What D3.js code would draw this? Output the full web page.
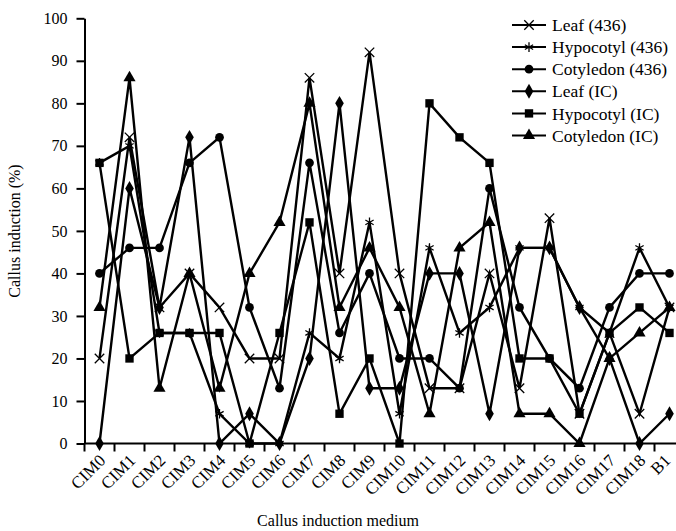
<!DOCTYPE html>
<html>
<head>
<meta charset="utf-8">
<script src="https://cdn.jsdelivr.net/npm/d3@7"></script>
<style>
  body { margin: 0; background: #fff; }
  text { font-family: "Liberation Serif", "Times New Roman", serif; fill: #000; }
</style>
</head>
<body>
<div id="chart"></div>
<script>
// categories (culture media)
const media = ["CIM0","CIM1","CIM2","CIM3","CIM4","CIM5","CIM6","CIM7","CIM8","CIM9",
  "CIM10","CIM11","CIM12","CIM13","CIM14","CIM15","CIM16","CIM17","CIM18","B1"];

// callus induction (%) per medium
const leaf436  = [20, 72, 32, 40, 32, 20, 20, 86, 40, 92, 40, 13, 13, 40, 13, 53, 7, 26, 7, 32];
const hypo436  = [66, 70, 26, 26, 7, 0, 0, 26, 20, 52, 7, 46, 26, 32, 46, 46, 32, 26, 46, 32];
const coty436  = [40, 46, 46, 66, 72, 32, 13, 66, 26, 40, 20, 20, 13, 60, 32, 20, 13, 32, 40, 40];
const leafIC   = [0, 60, 32, 72, 0, 7, 0, 20, 80, 13, 13, 40, 40, 7, 46, 46, 32, 20, 0, 7];
const hypoIC   = [66, 20, 26, 26, 26, 0, 26, 52, 7, 20, 0, 80, 72, 66, 20, 20, 7, 26, 32, 26];
const cotyIC   = [32, 86, 13, 40, 13, 40, 52, 80, 32, 46, 32, 7, 46, 52, 7, 7, 0, 20, 26, 32];

const seriesNames = ["Leaf (436)", "Hypocotyl (436)", "Cotyledon (436)", "Leaf (IC)", "Hypocotyl (IC)", "Cotyledon (IC)"];
const yTicks = [0, 10, 20, 30, 40, 50, 60, 70, 80, 90, 100];

const series = [
  { name: seriesNames[0], values: leaf436, sym: d3.symbolTimes, size: 60, filled: false },
  { name: seriesNames[1], values: hypo436, sym: d3.symbolAsterisk, size: 64, filled: false },
  { name: seriesNames[2], values: coty436, sym: d3.symbolCircle, size: 60, filled: true },
  { name: seriesNames[3], values: leafIC, sym: d3.symbolDiamond, size: 64, filled: true },
  { name: seriesNames[4], values: hypoIC, sym: d3.symbolSquare, size: 70, filled: true },
  { name: seriesNames[5], values: cotyIC, sym: d3.symbolTriangle, size: 64, filled: true }
];

const W = 676, H = 531;
const plotLeft = 84.5, plotBottom = 443.5, plotTop = 18.3;

const svg = d3.select("#chart").append("svg")
  .attr("width", W).attr("height", H)
  .attr("font-family", "Liberation Serif, serif");

const x = d3.scaleBand().domain(media).range([plotLeft, plotLeft + 30 * media.length]).padding(0);
const y = d3.scaleLinear().domain([0, 100]).range([plotBottom, plotTop]);
const cx = c => x(c) + x.bandwidth() / 2;

// y axis
const yAxis = svg.append("g")
  .attr("transform", `translate(${plotLeft},0)`)
  .call(d3.axisLeft(y).tickValues(yTicks).tickSize(8).tickPadding(9).tickSizeOuter(0));
yAxis.select(".domain").attr("stroke-width", 2);
yAxis.selectAll(".tick line").attr("stroke-width", 2);
yAxis.selectAll("text").style("font-size", "16px").style("font-family", "Liberation Serif, serif");

// x axis: labels at band centres, ticks at band edges
const xAxis = svg.append("g")
  .attr("transform", `translate(0,${plotBottom})`)
  .call(d3.axisBottom(x).tickSize(0).tickSizeOuter(0));
xAxis.select(".domain").remove();
xAxis.selectAll("text")
  .style("font-size", "17px").style("font-family", "Liberation Serif, serif")
  .attr("text-anchor", "end")
  .attr("dy", null)
  .attr("transform", d => d === "B1" ? "translate(2,18) rotate(-45)" : "translate(7,18) rotate(-45)")
  .attr("y", 0).attr("x", 0);

svg.append("line")
  .attr("x1", plotLeft).attr("x2", W + 20)
  .attr("y1", plotBottom).attr("y2", plotBottom)
  .attr("stroke", "#000").attr("stroke-width", 2);

svg.append("g").selectAll("line")
  .data(media.concat(["end"]))
  .join("line")
  .attr("x1", (d, i) => plotLeft + i * x.bandwidth())
  .attr("x2", (d, i) => plotLeft + i * x.bandwidth())
  .attr("y1", plotBottom).attr("y2", plotBottom + 8)
  .attr("stroke", "#000").attr("stroke-width", 2);

// lines
const line = d3.line().x((d, i) => cx(media[i])).y(d => y(d));
const plot = svg.append("g");
series.forEach(s => {
  plot.append("path")
    .attr("d", line(s.values))
    .attr("fill", "none")
    .attr("stroke", "#000")
    .attr("stroke-width", 2.4)
    .attr("stroke-linejoin", "miter");
});

function drawSymbol(g, s, px, py) {
  g.append("path")
    .attr("transform", `translate(${px},${py})`)
    .attr("d", d3.symbol().type(s.sym).size(s.size)())
    .attr("fill", s.filled ? "#000" : "none")
    .attr("stroke", s.filled ? "none" : "#000")
    .attr("stroke-width", s.filled ? 0 : 1.3);
}

series.forEach(s => {
  const g = plot.append("g");
  s.values.forEach((v, i) => drawSymbol(g, s, cx(media[i]), y(v)));
});

// legend
const legend = svg.append("g");
series.forEach((s, i) => {
  const ly = 25 + i * 22.1;
  legend.append("line")
    .attr("x1", 512).attr("x2", 546).attr("y1", ly).attr("y2", ly)
    .attr("stroke", "#000").attr("stroke-width", 2);
  drawSymbol(legend, s, 529, ly);
  legend.append("text")
    .attr("x", 552).attr("y", ly)
    .attr("dy", "0.35em")
    .style("font-size", "17.5px")
    .text(s.name);
});

// axis titles
svg.append("text")
  .attr("x", 338).attr("y", 526)
  .attr("text-anchor", "middle")
  .style("font-size", "16px")
  .text("Callus induction medium");

svg.append("text")
  .attr("transform", "translate(20,231) rotate(-90)")
  .attr("text-anchor", "middle")
  .style("font-size", "16px")
  .text("Callus induction (%)");
</script>
</body>
</html>
